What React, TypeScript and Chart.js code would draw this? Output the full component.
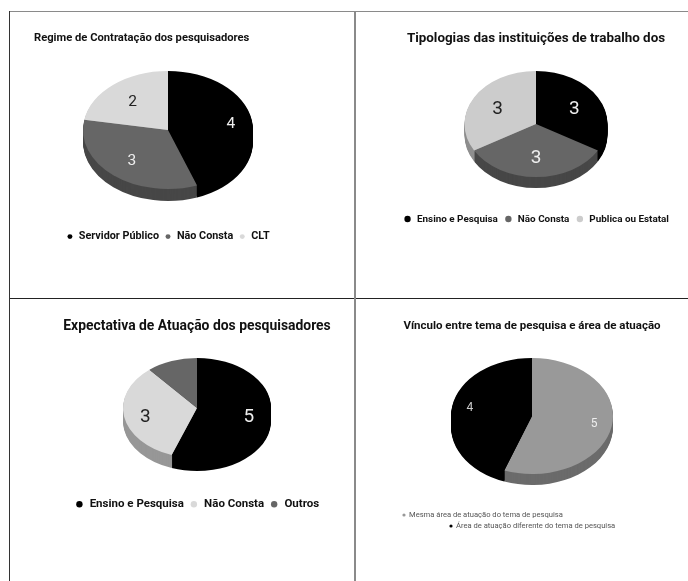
import React, { useEffect, useRef } from "react";
import { Chart, registerables } from "chart.js";

Chart.register(...registerables);

const regimeTitle = "Regime de Contratação dos pesquisadores";
const regimeLabels = ["Servidor Público", "Não Consta", "CLT"];
const regimeValues = [4, 3, 2];

const tipologiaTitle = "Tipologias das instituições de trabalho dos";
const tipologiaLabels = ["Ensino e Pesquisa", "Não Consta", "Publica ou Estatal"];
const tipologiaValues = [3, 3, 3];

const expectativaTitle = "Expectativa de Atuação dos pesquisadores";
const expectativaLabels = ["Ensino e Pesquisa", "Não Consta", "Outros"];
const expectativaValues = [5, 3, 1];

const vinculoTitle = "Vínculo entre tema de pesquisa e área de atuação";
const vinculoLabels = ["Mesma área de atuação do tema de pesquisa", "Área de atuação diferente do tema de pesquisa"];
const vinculoValues = [5, 4];

const FONT = "Roboto";

const pie3d = {
  id: "pie3d",
  beforeDatasetsDraw(chart: any, _a: any, o: any) {
    const ctx = chart.ctx;
    const meta = chart.getDatasetMeta(0);
    const ca = chart.chartArea;
    const x0 = (ca.left + ca.right) / 2;
    const y0 = (ca.top + ca.bottom) / 2;
    const k = o.ry / o.rx;
    const place = (d: number) => {
      ctx.translate(x0, o.cy + d);
      ctx.scale(1, k);
      ctx.translate(-x0, -y0);
    };
    for (let d = o.depth; d >= 1; d--) {
      ctx.save();
      place(d);
      meta.data.forEach((arc: any, i: number) => {
        const side = Object.assign(Object.create(Object.getPrototypeOf(arc)), arc);
        side.options = { ...arc.options, backgroundColor: o.sideColors[i], borderWidth: 0 };
        side.draw(ctx);
      });
      ctx.restore();
    }
    ctx.save();
    place(0);
  },
  afterDatasetsDraw(chart: any, _a: any, o: any) {
    const ctx = chart.ctx;
    ctx.restore();
    const meta = chart.getDatasetMeta(0);
    const values = chart.data.datasets[0].data;
    const ca = chart.chartArea;
    const x0 = (ca.left + ca.right) / 2;
    const k = o.ry / o.rx;
    ctx.save();
    ctx.font = `${o.labelSize}px ${FONT}`;
    ctx.textAlign = "center";
    ctx.textBaseline = "middle";
    meta.data.forEach((arc: any, i: number) => {
      if (o.labelColors[i] === null) return;
      const mid = (arc.startAngle + arc.endAngle) / 2;
      const r = arc.outerRadius * o.labelRadius[i];
      ctx.fillStyle = o.labelColors[i];
      ctx.fillText(String(values[i]), x0 + Math.cos(mid) * r, o.cy + o.labelDy + Math.sin(mid) * r * k);
    });
    if (o.rows) {
      ctx.font = `${o.rows.size}px ${FONT}`;
      ctx.textAlign = "left";
      o.rows.items.forEach((row: any, i: number) => {
        ctx.fillStyle = chart.data.datasets[0].backgroundColor[i];
        ctx.beginPath();
        ctx.arc(row.x, row.y, 1.6, 0, Math.PI * 2);
        ctx.fill();
        ctx.fillStyle = o.rows.color;
        ctx.fillText(chart.data.labels[i], row.x + 5, row.y);
      });
    }
    ctx.restore();
  },
};

function Pie({ cfg }: { cfg: any }) {
  const ref = useRef<HTMLCanvasElement>(null);
  useEffect(() => {
    const chart = new Chart(ref.current as HTMLCanvasElement, {
      type: "pie",
      data: {
        labels: cfg.labels,
        datasets: [{ data: cfg.values, backgroundColor: cfg.colors, borderWidth: 0, radius: cfg.rx }],
      },
      options: {
        responsive: false,
        animation: false,
        layout: { padding: 0 },
        plugins: {
          tooltip: { enabled: false },
          title: {
            display: true,
            text: cfg.title,
            align: cfg.titleAlign,
            color: "#111",
            padding: { top: 0, bottom: 4 },
            font: { family: FONT, size: cfg.titleSize, weight: "bold" },
          },
          legend: cfg.legendSize
            ? {
                display: true,
                position: "bottom",
                labels: {
                  usePointStyle: true,
                  pointStyle: "circle",
                  boxWidth: cfg.dot * 2,
                  boxHeight: cfg.dot,
                  padding: cfg.legendGap,
                  color: "#111",
                  font: { family: FONT, size: cfg.legendSize, weight: "bold" },
                },
              }
            : { display: false },
          pie3d: {
            rx: cfg.rx,
            ry: cfg.ry,
            cy: cfg.cy - cfg.top,
            depth: cfg.depth,
            sideColors: cfg.sideColors,
            labelColors: cfg.labelColors,
            labelSize: cfg.labelSize,
            labelRadius: cfg.labelRadius,
            labelDy: cfg.labelDy,
            rows: cfg.rows,
          },
        },
      } as any,
      plugins: [pie3d as any],
    });
    return () => chart.destroy();
  }, []);
  return (
    <canvas
      ref={ref}
      width={cfg.width}
      height={cfg.height}
      style={{ position: "absolute", left: cfg.left, top: cfg.top, width: cfg.width, height: cfg.height }}
    />
  );
}

const charts = [
  {
    title: regimeTitle, labels: regimeLabels, values: regimeValues, titleAlign: "start", titleSize: 11.2,
    colors: ["#000000", "#666666", "#d9d9d9"], sideColors: ["#000000", "#474747", "#979797"],
    labelColors: ["#eeeeee", "#eeeeee", "#222222"], labelSize: 15.5, labelRadius: [0.75, 0.66, 0.65], labelDy: 1.5,
    left: 34, top: 31, width: 268, height: 221, rx: 85, ry: 59, cy: 130, depth: 12, legendSize: 10.8, dot: 3.5, legendGap: 5.5,
  },
  {
    title: tipologiaTitle, labels: tipologiaLabels, values: tipologiaValues, titleAlign: "center", titleSize: 13.4,
    colors: ["#000000", "#666666", "#cccccc"], sideColors: ["#000000", "#474747", "#8e8e8e"],
    labelColors: ["#eeeeee", "#eeeeee", "#222222"], labelSize: 19, labelRadius: [0.62, 0.62, 0.62], labelDy: 1.5,
    left: 386, top: 31, width: 300, height: 203, rx: 71.5, ry: 53, cy: 124, depth: 11, legendSize: 9.9, dot: 4.5, legendGap: 6,
  },
  {
    title: expectativaTitle, labels: expectativaLabels, values: expectativaValues, titleAlign: "center", titleSize: 13.9,
    colors: ["#000000", "#d9d9d9", "#666666"], sideColors: ["#000000", "#979797", "#474747"],
    labelColors: ["#eeeeee", "#222222", null], labelSize: 19, labelRadius: [0.71, 0.71, 0.71], labelDy: 3.5,
    left: 47, top: 318, width: 300, height: 202, rx: 74, ry: 50, cy: 408, depth: 13, legendSize: 11.5, dot: 4.5, legendGap: 5.5,
  },
  {
    title: vinculoTitle, labels: vinculoLabels, values: vinculoValues, titleAlign: "center", titleSize: 11.5,
    colors: ["#999999", "#000000"], sideColors: ["#6b6b6b", "#000000"],
    labelColors: ["#eeeeee", "#cccccc"], labelSize: 12, labelRadius: [0.78, 0.78], labelDy: 0,
    left: 382, top: 319, width: 300, height: 240, rx: 81, ry: 58, cy: 416, depth: 11, legendSize: 0, dot: 0,
    rows: { size: 7.6, color: "#555555", items: [{ x: 22, y: 196 }, { x: 69, y: 207 }] },
  },
];

const lines = [
  { left: 9, top: 11, width: 679, height: 1, background: "#8a8a8a" },
  { left: 9, top: 298, width: 679, height: 1, background: "#222222" },
  { left: 9, top: 11, width: 1, height: 570, background: "#333333" },
  { left: 354, top: 11, width: 2, height: 570, background: "#8a8a8a" },
];

export default function App() {
  return (
    <div style={{ position: "absolute", left: 0, top: 0, width: 688, height: 581, overflow: "hidden", background: "#fff", filter: "blur(0.45px)" }}>
      {lines.map((s, i) => (
        <div key={i} style={{ position: "absolute", ...s }} />
      ))}
      {charts.map((c, i) => (
        <Pie key={i} cfg={c} />
      ))}
    </div>
  );
}
